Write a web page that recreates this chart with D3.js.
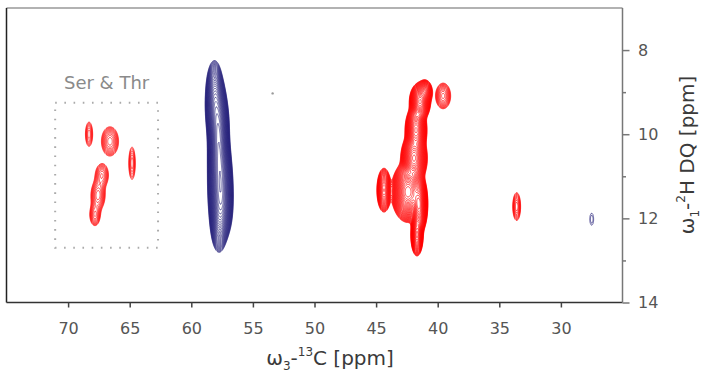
<!DOCTYPE html>
<html>
<head>
<meta charset="utf-8">
<script src="https://cdn.jsdelivr.net/npm/d3@7"></script>
<style>
  body { margin: 0; background: #fff; }
  svg { display: block; font-family: "DejaVu Sans", sans-serif; }
</style>
</head>
<body>
<div id="chart"></div>
<script>
// Peak list (ppm). Negative height = negative (blue) contours.
const peakC13 = [
  // Ser & Thr
  68.3, 66.6, 64.81, 67.25, 67.57, 67.82,
  // big cluster around 42 ppm
  41.44, 41.03, 41.76, 41.92, 42.41, 41.52, 44.36, 41.68, 39.56,
  // small red at 33.6
  33.59,
  // blue column at 58 ppm
  58.12, 58.0, 57.83, 57.79, 57.75, 57.67, 57.63, 57.59, 57.75,
  // small blue at 27.5
  27.5
];
const peakH2 = [
  10.0, 10.17, 10.69, 10.97, 11.45, 11.92,
  9.23, 8.99, 9.90, 10.57, 11.37, 11.68, 11.33, 12.40, 9.09,
  11.72,
  8.95, 9.35, 9.75, 10.15, 10.55, 10.95, 11.35, 11.75, 12.10,
  12.02
];
const peakWidthC13 = [
  0.21, 0.40, 0.19, 0.33, 0.33, 0.26,
  0.30, 0.25, 0.31, 0.37, 0.45, 0.24, 0.23, 0.19, 0.34,
  0.20,
  0.28, 0.32, 0.32, 0.30, 0.32, 0.34, 0.35, 0.34, 0.28,
  0.22
];
const peakWidthH2 = [
  0.21, 0.20, 0.28, 0.17, 0.20, 0.16,
  0.16, 0.12, 0.21, 0.21, 0.24, 0.24, 0.21, 0.19, 0.17,
  0.21,
  0.30, 0.30, 0.30, 0.30, 0.30, 0.30, 0.30, 0.30, 0.30,
  0.20
];
const peakHeight = [
  2.6, 4.5, 2.6, 3.5, 4.5, 3.5,
  60, 15, 60, 70, 100, 80, 22, 30, 5,
  3.5,
  -15, -30, -38, -40, -45, -48, -50, -42, -15,
  -1.3
];

const c13Ticks = [70, 65, 60, 55, 50, 45, 40, 35, 30];
const h2Ticks = [8, 10, 12, 14];
const h2MinorTicks = [9, 11, 13];

// Ser & Thr region box: C13 from/to, H2 from/to
const serThrBox = [71.05, 62.7, 9.25, 12.7];
const serThrLabel = 'Ser & Thr';
// tiny grey noise spike
const spikeC13 = [53.4];
const spikeH2 = [9.03];

const contourBase = 1, contourFactor = 1.15, contourCount = 45;

const width = 708, height = 375;
const x0 = 6.5, x1 = 622.5, y0 = 8, y1 = 302.5;

const svg = d3.select('#chart').append('svg')
  .attr('width', width)
  .attr('height', height);

const x = d3.scaleLinear().domain([75, 25]).range([x0, x1]);
const y = d3.scaleLinear().domain([7, 14]).range([y0, y1]);

// sample the peak sum on a 1px grid over the plot area
const nx = Math.round(x1 - x0), ny = Math.round(y1 - y0);
const field = new Float64Array(nx * ny);
for (let j = 0; j < ny; j++) {
  const h = y.invert(y0 + j + 0.5);
  for (let i = 0; i < nx; i++) {
    const c = x.invert(x0 + i + 0.5);
    let v = 0;
    for (let p = 0; p < peakC13.length; p++) {
      const dx = (c - peakC13[p]) / peakWidthC13[p];
      const dy = (h - peakH2[p]) / peakWidthH2[p];
      const e = dx * dx + dy * dy;
      if (e < 50) v += peakHeight[p] * Math.exp(-0.5 * e);
    }
    field[j * nx + i] = v;
  }
}
const negField = field.map(v => -v);

const levels = d3.range(contourCount).map(k => contourBase * Math.pow(contourFactor, k));
const contours = d3.contours().size([nx, ny]).thresholds(levels);

svg.append('clipPath').attr('id', 'plot-clip')
  .append('rect')
  .attr('x', 0).attr('y', 0).attr('width', nx).attr('height', ny);

const plot = svg.append('g')
  .attr('transform', `translate(${x0},${y0})`)
  .attr('clip-path', 'url(#plot-clip)');

const path = d3.geoPath();

plot.append('g').selectAll('path')
  .data(contours(field))
  .join('path')
  .attr('d', path)
  .attr('fill', 'none')
  .attr('stroke', '#ff0000')
  .attr('stroke-width', 0.65);

plot.append('g').selectAll('path')
  .data(contours(negField))
  .join('path')
  .attr('d', path)
  .attr('fill', 'none')
  .attr('stroke', '#25207a')
  .attr('stroke-width', 0.65);

// grey spike
svg.selectAll('.spike')
  .data(spikeC13)
  .join('circle')
  .attr('class', 'spike')
  .attr('cx', (d, i) => x(d))
  .attr('cy', (d, i) => y(spikeH2[i]))
  .attr('r', 1.2)
  .attr('fill', '#999');

// Ser & Thr box + label
svg.append('rect')
  .attr('x', x(serThrBox[0]))
  .attr('y', y(serThrBox[2]))
  .attr('width', x(serThrBox[1]) - x(serThrBox[0]))
  .attr('height', y(serThrBox[3]) - y(serThrBox[2]))
  .attr('fill', 'none')
  .attr('stroke', '#aaa')
  .attr('stroke-width', 2)
  .attr('stroke-dasharray', '1.6,7.6');

svg.append('text')
  .attr('x', (x(serThrBox[0]) + x(serThrBox[1])) / 2)
  .attr('y', y(serThrBox[2]) - 14)
  .attr('text-anchor', 'middle')
  .attr('font-size', 18)
  .attr('fill', '#8a8a8a')
  .text(serThrLabel);

// frame
svg.append('line').attr('x1', x0).attr('x2', x1).attr('y1', y0).attr('y2', y0)
  .attr('stroke', '#999').attr('stroke-width', 1.5);
svg.append('line').attr('x1', x0).attr('x2', x0).attr('y1', y0).attr('y2', y1)
  .attr('stroke', '#222').attr('stroke-width', 1.5);
svg.append('line').attr('x1', x0).attr('x2', x1).attr('y1', y1).attr('y2', y1)
  .attr('stroke', '#333').attr('stroke-width', 1.5);
svg.append('line').attr('x1', x1).attr('x2', x1).attr('y1', y0).attr('y2', y1)
  .attr('stroke', '#777').attr('stroke-width', 1.5);

// bottom axis
const xAxis = svg.append('g')
  .attr('transform', `translate(0,${y1})`)
  .call(d3.axisBottom(x).tickValues(c13Ticks).tickSize(5).tickPadding(15).tickFormat(d3.format('d')));
xAxis.select('.domain').remove();
xAxis.selectAll('line').attr('stroke', '#444').attr('stroke-width', 1.5);
xAxis.selectAll('text').attr('font-size', 16).attr('fill', '#555')
  .attr('font-family', '"DejaVu Sans", sans-serif');

// right axis
const yAxis = svg.append('g')
  .attr('transform', `translate(${x1},0)`)
  .call(d3.axisRight(y).tickValues(h2Ticks).tickSize(7).tickPadding(8.5).tickFormat(d3.format('d')));
yAxis.select('.domain').remove();
yAxis.selectAll('line').attr('stroke', '#777').attr('stroke-width', 1.5);
yAxis.selectAll('text').attr('font-size', 16).attr('fill', '#555')
  .attr('font-family', '"DejaVu Sans", sans-serif');

const yMinor = svg.append('g')
  .attr('transform', `translate(${x1},0)`)
  .call(d3.axisRight(y).tickValues(h2MinorTicks).tickSize(3.5).tickFormat(''));
yMinor.select('.domain').remove();
yMinor.selectAll('line').attr('stroke', '#777').attr('stroke-width', 1.5);

// axis titles
const xTitle = svg.append('text')
  .attr('x', 330)
  .attr('y', 365)
  .attr('text-anchor', 'middle')
  .attr('font-size', 20)
  .attr('fill', '#3a3a3a');
xTitle.append('tspan').text('ω');
xTitle.append('tspan').attr('font-size', 12).attr('dy', 5).text('3');
xTitle.append('tspan').attr('dy', -5).text('-');
xTitle.append('tspan').attr('font-size', 12).attr('dy', -9).text('13');
xTitle.append('tspan').attr('dy', 9).text('C [ppm]');

const yTitle = svg.append('text')
  .attr('transform', 'translate(694,155) rotate(-90)')
  .attr('text-anchor', 'middle')
  .attr('font-size', 20)
  .attr('fill', '#3a3a3a');
yTitle.append('tspan').text('ω');
yTitle.append('tspan').attr('font-size', 12).attr('dy', 5).text('1');
yTitle.append('tspan').attr('dy', -5).text('-');
yTitle.append('tspan').attr('font-size', 12).attr('dy', -9).text('2');
yTitle.append('tspan').attr('dy', 9).text('H DQ [ppm]');
</script>
</body>
</html>
